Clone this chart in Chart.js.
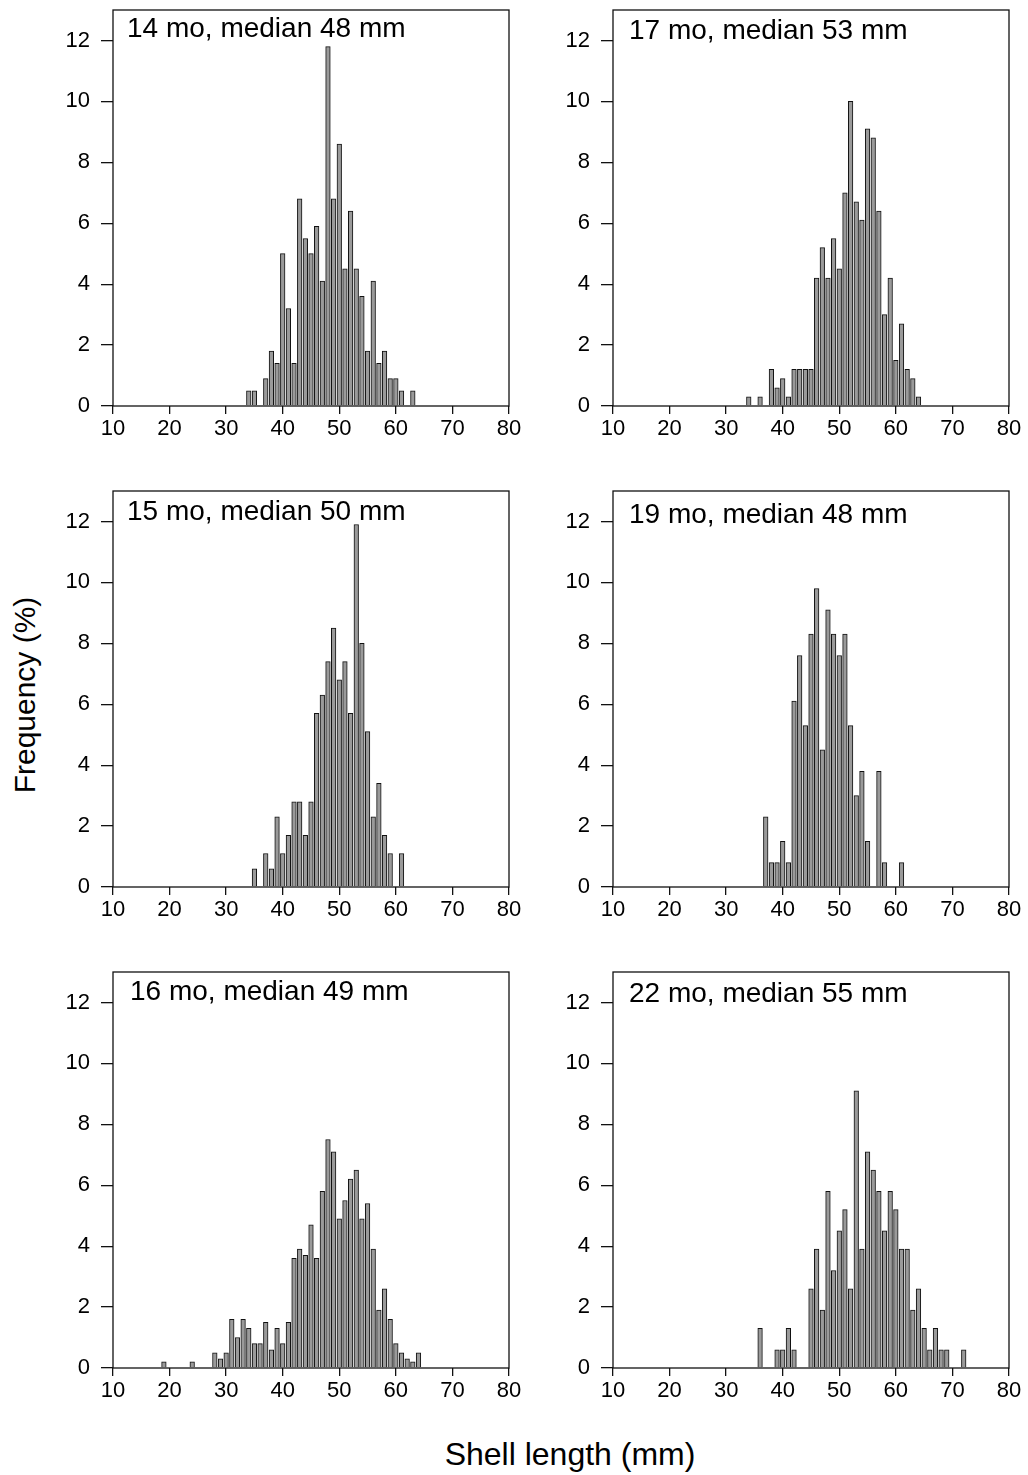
<!DOCTYPE html>
<html>
<head>
<meta charset="utf-8">
<script src="https://cdn.jsdelivr.net/npm/chart.js@4.4.1/dist/chart.umd.min.js"></script>
<style>
  body { margin: 0; background: #fff; width: 1028px; height: 1475px; position: relative; overflow: hidden;
         font-family: "Liberation Sans", Arial, sans-serif; color: #000; }
  canvas { position: absolute; }
  .ttl { position: absolute; font-size: 28px; line-height: 1; white-space: nowrap; }
  #ylab { position: absolute; font-size: 30px; line-height: 1; white-space: nowrap;
          left: 25px; top: 695px; transform: translate(-50%, -50%) rotate(-90deg); }
  #xlab { position: absolute; font-size: 32px; line-height: 1; white-space: nowrap;
          left: 570px; top: 1454px; transform: translate(-50%, -50%); }
</style>
</head>
<body>

<div id="ylab">Frequency (%)</div>
<div id="xlab">Shell length (mm)</div>

<script>
// shell length classes (mm) and frequency (%) per sample
const len14 = [34, 35, 37, 38, 39, 40, 41, 42, 43, 44, 45, 46, 47, 48, 49, 50, 51, 52, 53, 54, 55, 56, 57, 58, 59, 60, 61, 63];
const freq14 = [0.5, 0.5, 0.9, 1.8, 1.4, 5.0, 3.2, 1.4, 6.8, 5.5, 5.0, 5.9, 4.1, 11.8, 6.8, 8.6, 4.5, 6.4, 4.5, 3.6, 1.8, 4.1, 1.4, 1.8, 0.9, 0.9, 0.5, 0.5];

const len17 = [34, 36, 38, 39, 40, 41, 42, 43, 44, 45, 46, 47, 48, 49, 50, 51, 52, 53, 54, 55, 56, 57, 58, 59, 60, 61, 62, 63, 64];
const freq17 = [0.3, 0.3, 1.2, 0.6, 0.9, 0.3, 1.2, 1.2, 1.2, 1.2, 4.2, 5.2, 4.2, 5.5, 4.5, 7.0, 10.0, 6.7, 6.1, 9.1, 8.8, 6.4, 3.0, 4.2, 1.5, 2.7, 1.2, 0.9, 0.3];

const len15 = [35, 37, 38, 39, 40, 41, 42, 43, 44, 45, 46, 47, 48, 49, 50, 51, 52, 53, 54, 55, 56, 57, 58, 59, 61];
const freq15 = [0.6, 1.1, 0.6, 2.3, 1.1, 1.7, 2.8, 2.8, 1.7, 2.8, 5.7, 6.3, 7.4, 8.5, 6.8, 7.4, 5.7, 11.9, 8.0, 5.1, 2.3, 3.4, 1.7, 1.1, 1.1];

const len19 = [37, 38, 39, 40, 41, 42, 43, 44, 45, 46, 47, 48, 49, 50, 51, 52, 53, 54, 55, 57, 58, 61];
const freq19 = [2.3, 0.8, 0.8, 1.5, 0.8, 6.1, 7.6, 5.3, 8.3, 9.8, 4.5, 9.1, 8.3, 7.6, 8.3, 5.3, 3.0, 3.8, 1.5, 3.8, 0.8, 0.8];

const len16 = [19, 24, 28, 29, 30, 31, 32, 33, 34, 35, 36, 37, 38, 39, 40, 41, 42, 43, 44, 45, 46, 47, 48, 49, 50, 51, 52, 53, 54, 55, 56, 57, 58, 59, 60, 61, 62, 63, 64];
const freq16 = [0.2, 0.2, 0.5, 0.3, 0.5, 1.6, 1.0, 1.6, 1.3, 0.8, 0.8, 1.5, 0.6, 1.3, 0.8, 1.5, 3.6, 3.9, 3.7, 4.7, 3.6, 5.8, 7.5, 7.1, 4.9, 5.5, 6.2, 6.5, 4.9, 5.4, 3.9, 1.9, 2.6, 1.6, 0.8, 0.5, 0.3, 0.2, 0.5];

const len22 = [36, 39, 40, 41, 42, 45, 46, 47, 48, 49, 50, 51, 52, 53, 54, 55, 56, 57, 58, 59, 60, 61, 62, 63, 64, 65, 66, 67, 68, 69, 72];
const freq22 = [1.3, 0.6, 0.6, 1.3, 0.6, 2.6, 3.9, 1.9, 5.8, 3.2, 4.5, 5.2, 2.6, 9.1, 3.9, 7.1, 6.5, 5.8, 4.5, 5.8, 5.2, 3.9, 3.9, 1.9, 2.6, 1.3, 0.6, 1.3, 0.6, 0.6, 0.6];

const xTicks = [10, 20, 30, 40, 50, 60, 70, 80];
const yTicks = [0, 2, 4, 6, 8, 10, 12];

const panels = [
    { title: "14 mo, median 48 mm", lens: len14, freqs: freq14, col: 0, row: 0, tx: 127, ty: 14 },
    { title: "17 mo, median 53 mm", lens: len17, freqs: freq17, col: 1, row: 0, tx: 629, ty: 16 },
    { title: "15 mo, median 50 mm", lens: len15, freqs: freq15, col: 0, row: 1, tx: 127, ty: 497 },
    { title: "19 mo, median 48 mm", lens: len19, freqs: freq19, col: 1, row: 1, tx: 629, ty: 500 },
    { title: "16 mo, median 49 mm", lens: len16, freqs: freq16, col: 0, row: 2, tx: 130, ty: 977 },
    { title: "22 mo, median 55 mm", lens: len22, freqs: freq22, col: 1, row: 2, tx: 629, ty: 979 },
];

// box round the plot area
const frame = {
    id: 'frame',
    afterDraw(chart) {
        let a = chart.chartArea, ctx = chart.ctx;
        ctx.save();
        ctx.strokeStyle = '#111';
        ctx.lineWidth = 1.3;
        ctx.strokeRect(a.left, a.top, a.right - a.left, a.bottom - a.top);
        ctx.restore();
    }
};

const font = { family: '"Liberation Sans", Arial, sans-serif', size: 22 };

panels.forEach(p => {
    let cv = document.createElement('canvas');
    let left = p.col == 0 ? 0 : 500;
    let w = p.col == 0 ? 540 : 528;
    cv.width = w;
    cv.height = 460;
    cv.style.left = left + 'px';
    cv.style.top = (p.row * 481) + 'px';
    document.body.appendChild(cv);

    let t = document.createElement('div');
    t.className = 'ttl';
    t.textContent = p.title;
    t.style.left = p.tx + 'px';
    t.style.top = p.ty + 'px';
    document.body.appendChild(t);

    new Chart(cv, {
        type: 'bar',
        data: {
            datasets: [{
                data: p.lens.map((x, i) => ({ x: x, y: p.freqs[i] })),
                backgroundColor: '#9a9a9a',
                borderColor: '#111',
                borderWidth: 1,
                barThickness: 4.6
            }]
        },
        options: {
            responsive: false,
            animation: false,
            devicePixelRatio: 1,
            layout: { padding: { top: 10, right: w - 509, left: 0, bottom: 0 } },
            plugins: { legend: { display: false }, tooltip: { enabled: false } },
            scales: {
                x: {
                    type: 'linear',
                    min: 10,
                    max: 80,
                    offset: false,
                    afterFit: s => { s.height = 54; s.paddingLeft = 0; s.paddingRight = 0; },
                    afterBuildTicks: s => { s.ticks = xTicks.map(v => ({ value: v })); },
                    grid: { drawOnChartArea: false, offset: false, tickLength: 8, color: '#111', lineWidth: 1.3 },
                    border: { display: false },
                    ticks: { color: '#000', font: font, padding: 2, maxRotation: 0 }
                },
                y: {
                    min: 0,
                    max: 13,
                    afterFit: s => { s.width = 113; s.paddingTop = 0; s.paddingBottom = 0; },
                    afterBuildTicks: s => { s.ticks = yTicks.map(v => ({ value: v })); },
                    grid: { drawOnChartArea: false, tickLength: 12, color: '#111', lineWidth: 1.3 },
                    border: { display: false },
                    ticks: { color: '#000', font: font, padding: 11 }
                }
            }
        },
        plugins: [frame]
    });
});
</script>
</body>
</html>
